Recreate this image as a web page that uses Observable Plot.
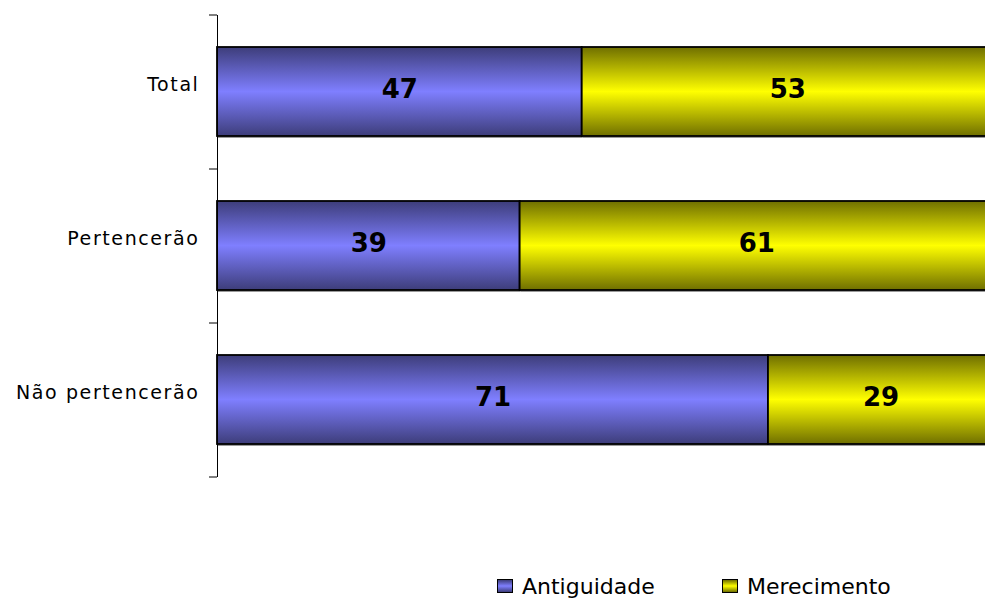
<!DOCTYPE html>
<html><head><meta charset="utf-8">
<script src="https://cdn.jsdelivr.net/npm/d3@7"></script>
<script src="https://cdn.jsdelivr.net/npm/@observablehq/plot@0.6"></script>
<style>
body{margin:0;background:#fff;font-family:"DejaVu Sans",sans-serif;}
#wrap{position:relative;width:985px;height:602px;overflow:hidden;}
#legend{position:absolute;top:570px;left:0;width:985px;height:32px;font-size:22px;color:#000;}
.item{position:absolute;top:0;display:flex;align-items:center;height:32px;}
.sw{width:14px;height:12px;border:1.5px solid #000;margin-right:9px;}
</style>
</head><body><div id="wrap"><div id="chart"></div><div id="legend"></div></div>
<script>
const categories = ["Total", "Pertencerão", "Não pertencerão"];
const seriesNames = ["Antiguidade", "Merecimento"];
const antiguidade = [47, 39, 71];
const merecimento = [53, 61, 29];
const seriesColors = [["#3d3d7a", "#7f7fff"], ["#6f6f00", "#ffff00"]];

const data = [];
categories.forEach((c, i) => {
  data.push({cat: c, series: seriesNames[0], value: antiguidade[i]});
  data.push({cat: c, series: seriesNames[1], value: merecimento[i]});
});

const plot = Plot.plot({
  width: 985, height: 560,
  marginLeft: 217, marginRight: 0, marginTop: 15, marginBottom: 83,
  x: {domain: [0, 100], range: [217, 993], axis: null},
  y: {domain: categories, paddingInner: 0.42, paddingOuter: 0.21, axis: null},
  color: {domain: seriesNames, range: ["url(#gAnt)", "url(#gMer)"]},
  style: {fontFamily: "DejaVu Sans, sans-serif", overflow: "visible", background: "#fff"},
  marks: [
    Plot.barX(data, Plot.stackX({x: "value", y: "cat", z: "series", fill: "#9a9a9a", dx: 1, dy: 2})),
    Plot.barX(data, Plot.stackX({x: "value", y: "cat", z: "series", fill: "series", stroke: "#000", strokeWidth: 1.8})),
    Plot.text(data, Plot.stackX({x: "value", y: "cat", z: "series", text: d => String(d.value),
      fontSize: 26, fontWeight: "bold", fill: "#000", dy: -2})),
    Plot.ruleX([0], {stroke: "#000", strokeWidth: 1}),
    Plot.axisY(categories, {tickSize: 8, dy: -77, stroke: "#000", tickFormat: () => "", label: null}),
    Plot.axisY([categories[categories.length - 1]], {tickSize: 8, dy: 77, stroke: "#000", tickFormat: () => "", label: null}),
    Plot.text(categories, {y: d => d, frameAnchor: "left", textAnchor: "end", dx: -18, dy: -7,
      fontSize: 19, fill: "#000", className: "catlab"})
  ]
});

const ns = "http://www.w3.org/2000/svg";
const defs = document.createElementNS(ns, "defs");
seriesColors.forEach((cc, i) => {
  const g = document.createElementNS(ns, "linearGradient");
  g.setAttribute("id", i === 0 ? "gAnt" : "gMer");
  g.setAttribute("x1", "0"); g.setAttribute("y1", "0");
  g.setAttribute("x2", "0"); g.setAttribute("y2", "1");
  [[0, cc[0]], [0.5, cc[1]], [1, cc[0]]].forEach(([o, c]) => {
    const s = document.createElementNS(ns, "stop");
    s.setAttribute("offset", o); s.setAttribute("stop-color", c);
    g.appendChild(s);
  });
  defs.appendChild(g);
});
plot.insertBefore(defs, plot.firstChild);
plot.querySelectorAll(".catlab text").forEach(t => t.style.letterSpacing = "1.6px");
document.getElementById("chart").appendChild(plot);

const legend = document.getElementById("legend");
const lefts = [497, 722];
seriesNames.forEach((name, i) => {
  const it = document.createElement("div");
  it.className = "item";
  it.style.left = lefts[i] + "px";
  const sw = document.createElement("div");
  sw.className = "sw";
  sw.style.background = `linear-gradient(${seriesColors[i][0]}, ${seriesColors[i][1]}, ${seriesColors[i][0]})`;
  const tx = document.createElement("span");
  tx.textContent = name;
  it.appendChild(sw); it.appendChild(tx);
  legend.appendChild(it);
});
</script>
</body></html>
